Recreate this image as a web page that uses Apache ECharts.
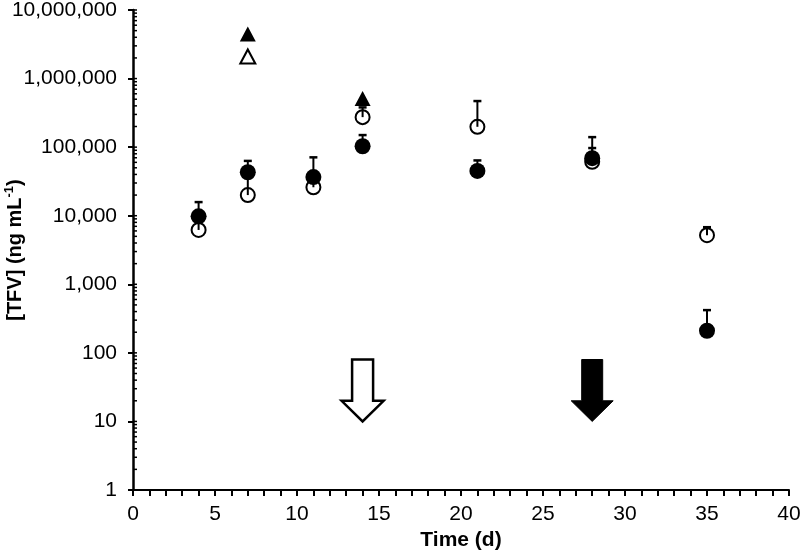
<!DOCTYPE html>
<html>
<head>
<meta charset="utf-8">
<script src="https://cdn.jsdelivr.net/npm/echarts@6/dist/echarts.min.js"></script>
<style>
html,body{margin:0;padding:0;background:#fff;}
#chart{width:800px;height:556px;}
</style>
</head>
<body>
<div id="chart"></div>
<script>
// ---- data ----
var filledCircleDays = [4, 7, 11, 14, 21, 28, 35];
var filledCircleValues = [9800, 43000, 36600, 103000, 45000, 69000, 210];
var filledCircleErrHigh = [15800, 63000, 71000, 150000, 64000, 97000, 420];

var openCircleDays = [4, 7, 11, 14, 21, 28, 35];
var openCircleValues = [6200, 20000, 26000, 274000, 198000, 61000, 5200];
var openCircleErrHigh = [9000, 40000, 34000, 380000, 470000, 140000, 6800];

var filledTriangleDays = [7, 14];
var filledTriangleValues = [4450000, 510000];

var openTriangleDays = [7];
var openTriangleValues = [2100000];

// arrows: day, top value, head-start value, tip value, filled?
var arrowDays = [14, 28];
var arrowTop = [80, 80];
var arrowHeadStart = [20, 20];
var arrowTip = [10, 10];
var arrowFilled = [0, 1];

var xTicks = [0, 5, 10, 15, 20, 25, 30, 35, 40];
var yTicks = [1, 10, 100, 1000, 10000, 100000, 1000000, 10000000];
var yMinorMultipliers = [2, 3, 4, 5, 6, 7, 8, 9];

// ---- build ----
function pairs(xs, ys) { return xs.map(function (x, i) { return [x, ys[i]]; }); }
function errData(xs, ys, hs) { return xs.map(function (x, i) { return [x, ys[i], hs[i]]; }); }

var FONT = "'Liberation Sans', Arial, sans-serif";

function errRender(params, api) {
  var x = api.value(0), y = api.value(1), h = api.value(2);
  var p0 = api.coord([x, y]);
  var p1 = api.coord([x, h]);
  return {
    type: 'group',
    children: [
      { type: 'line', shape: { x1: p0[0], y1: p0[1], x2: p1[0], y2: p1[1] },
        style: { stroke: '#000', lineWidth: 2 } },
      { type: 'line', shape: { x1: p1[0] - 4, y1: p1[1], x2: p1[0] + 4, y2: p1[1] },
        style: { stroke: '#000', lineWidth: 2.5 } }
    ]
  };
}

function arrowRender(params, api) {
  var x = api.value(0);
  var top = api.coord([x, api.value(1)]);
  var hs = api.coord([x, api.value(2)]);
  var tip = api.coord([x, api.value(3)]);
  var filled = api.value(4) === 1;
  var sw = 10.5, hw = 21;
  var cx = top[0];
  var pts = [
    [cx - sw, top[1]], [cx + sw, top[1]], [cx + sw, hs[1]], [cx + hw, hs[1]],
    [cx, tip[1]], [cx - hw, hs[1]], [cx - sw, hs[1]]
  ];
  return {
    type: 'polygon',
    shape: { points: pts },
    style: filled ? { fill: '#000', stroke: '#000', lineWidth: 1 }
                  : { fill: '#fff', stroke: '#000', lineWidth: 2.5 }
  };
}

var arrowData = arrowDays.map(function (d, i) {
  return [d, arrowTop[i], arrowHeadStart[i], arrowTip[i], arrowFilled[i]];
});

// minor tick positions on the log y axis (axis decoration)
var minorTickData = [];
yTicks.slice(0, -1).forEach(function (d) {
  yMinorMultipliers.forEach(function (m) { minorTickData.push([0, d * m]); });
});
function minorTickRender(params, api) {
  var p = api.coord([api.value(0), api.value(1)]);
  return { type: 'line', shape: { x1: p[0], y1: p[1], x2: p[0] + 4, y2: p[1] },
    style: { stroke: '#000', lineWidth: 1.5 } };
}

var chart = echarts.init(document.getElementById('chart'), null, { renderer: 'canvas' });
chart.setOption({
  animation: false,
  backgroundColor: '#fff',
  grid: { left: 133, right: 11, top: 10, bottom: 66, containLabel: false, outerBoundsMode: 'none' },
  xAxis: {
    type: 'value', min: 0, max: 40, interval: 5,
    name: 'Time (d)', nameLocation: 'middle', nameGap: 40, nameMoveOverlap: false,
    nameTextStyle: { fontFamily: FONT, fontSize: 21, fontWeight: 'bold', color: '#000' },
    axisLine: { show: true, lineStyle: { color: '#000', width: 2 } },
    axisTick: { show: true, length: 6, lineStyle: { color: '#000', width: 2 } },
    minorTick: { show: true, splitNumber: 5, length: 6, lineStyle: { color: '#000', width: 2 } },
    axisLabel: { fontFamily: FONT, fontSize: 21, color: '#000', margin: 14,
      formatter: function (v) { return xTicks.indexOf(v) >= 0 ? String(v) : ''; } },
    splitLine: { show: false }
  },
  yAxis: {
    type: 'log', logBase: 10, min: 1, max: 10000000, splitLine: { show: false },
    name: '[TFV] (ng mL{sup|-1})', nameLocation: 'middle', nameGap: 106, nameRotate: 90, nameMoveOverlap: false,
    nameTextStyle: { fontFamily: FONT, fontSize: 20, fontWeight: 'bold', color: '#000', lineHeight: 24,
      rich: { sup: { fontFamily: FONT, fontSize: 13, fontWeight: 'bold', color: '#000', verticalAlign: 'top', lineHeight: 24 } } },
    axisLine: { show: true, lineStyle: { color: '#000', width: 2.5 } },
    axisTick: { show: true, length: 5, lineStyle: { color: '#000', width: 2 } },
    minorTick: { show: false },
    axisLabel: { fontFamily: FONT, fontSize: 21, color: '#000', margin: 16,
      formatter: function (v) { return yTicks.indexOf(v) >= 0 ? v.toLocaleString('en-US') : ''; } }
  },
  series: [
    { type: 'custom', name: 'y minor ticks', z: 1, renderItem: minorTickRender, data: minorTickData, clip: false, silent: true },
    { type: 'custom', name: 'y major inner ticks', z: 1, renderItem: minorTickRender,
      data: yTicks.map(function (v) { return [0, v]; }), clip: false, silent: true },
    { type: 'scatter', name: 'open circles', z: 2, data: pairs(openCircleDays, openCircleValues),
      symbol: 'circle', symbolSize: 14,
      itemStyle: { color: '#fff', borderColor: '#000', borderWidth: 2, opacity: 1 } },
    { type: 'scatter', name: 'filled circles', z: 3, data: pairs(filledCircleDays, filledCircleValues),
      symbol: 'circle', symbolSize: 16,
      itemStyle: { color: '#000', opacity: 1 } },
    { type: 'custom', name: 'open err', z: 4, renderItem: errRender,
      data: errData(openCircleDays, openCircleValues, openCircleErrHigh) },
    { type: 'custom', name: 'filled err', z: 4, renderItem: errRender,
      data: errData(filledCircleDays, filledCircleValues, filledCircleErrHigh) },
    { type: 'scatter', name: 'open triangles', z: 5, data: pairs(openTriangleDays, openTriangleValues),
      symbol: 'triangle', symbolSize: [15, 14],
      itemStyle: { color: '#fff', borderColor: '#000', borderWidth: 2, opacity: 1 } },
    { type: 'scatter', name: 'filled triangles', z: 5, data: pairs(filledTriangleDays, filledTriangleValues),
      symbol: 'triangle', symbolSize: [16, 15],
      itemStyle: { color: '#000', opacity: 1 } },
    { type: 'custom', name: 'arrows', z: 5, renderItem: arrowRender, data: arrowData }
  ]
});
</script>
</body>
</html>
